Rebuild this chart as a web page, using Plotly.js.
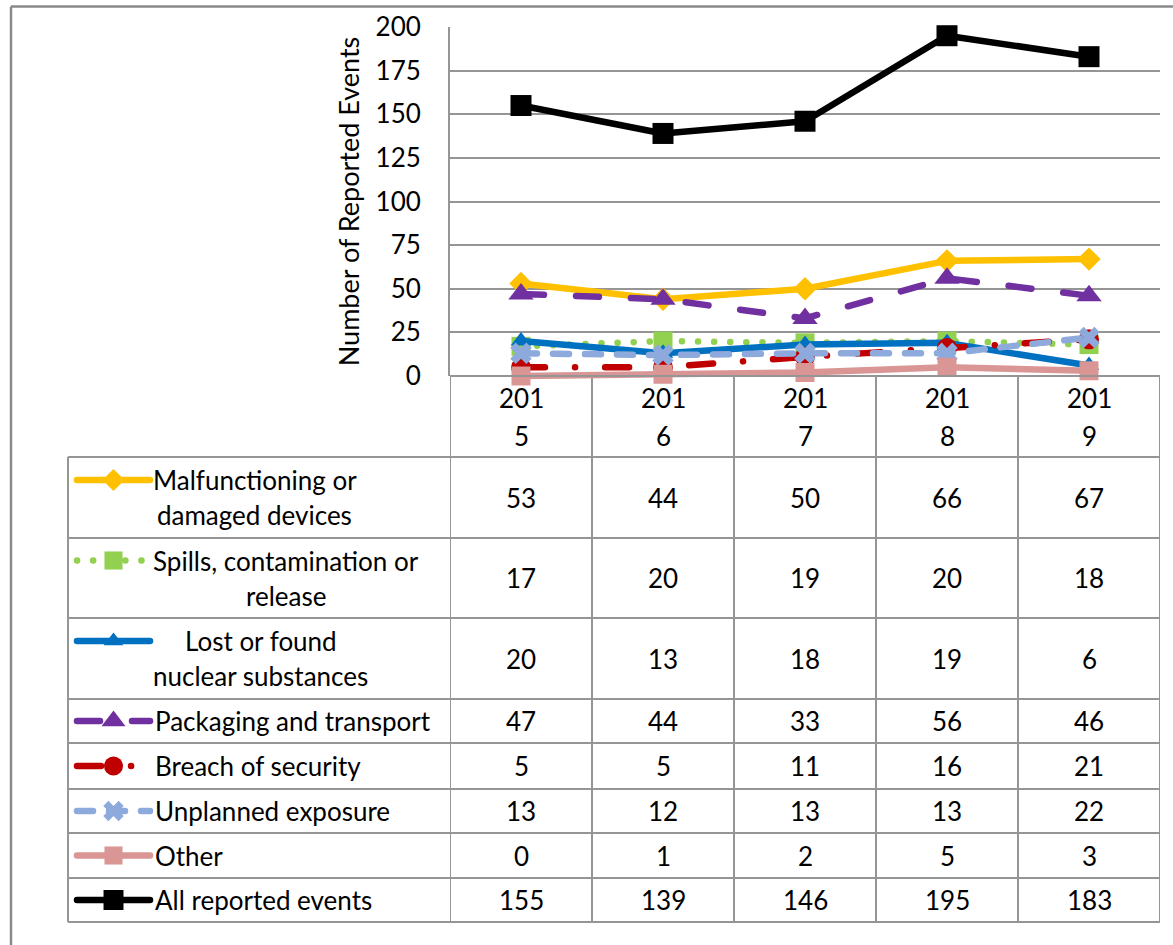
<!DOCTYPE html>
<html><head><meta charset="utf-8">
<script src="https://cdn.plot.ly/plotly-3.0.1.min.js"></script>
<style>html,body{margin:0;padding:0;background:#fff;} #chart{width:1173px;height:945px;}</style>
</head><body><div id="chart"></div>
<script>
// ---------- data ----------
const categories = ['2015', '2016', '2017', '2018', '2019'];
const seriesNames = [
  'Malfunctioning or<br>damaged devices',
  'Spills, contamination or<br>release',
  'Lost or found<br>nuclear substances',
  'Packaging and transport',
  'Breach of security',
  'Unplanned exposure',
  'Other',
  'All reported events'
];
const malfunctioning = [53, 44, 50, 66, 67];
const spills = [17, 20, 19, 20, 18];
const lostFound = [20, 13, 18, 19, 6];
const packaging = [47, 44, 33, 56, 46];
const breach = [5, 5, 11, 16, 21];
const unplanned = [13, 12, 13, 13, 22];
const other = [0, 1, 2, 5, 3];
const allEvents = [155, 139, 146, 195, 183];
const seriesValues = [malfunctioning, spills, lostFound, packaging, breach, unplanned, other, allEvents];
const yAxisTitle = 'Number of Reported Events';

// ---------- styles / layout constants ----------
const W = 1173, H = 945;
const plotLeft = 450, plotRight = 1160, plotTop = 27, plotBottom = 376;
const rowEdges = [457, 538, 618, 699, 743, 789, 833, 878, 922];
const tableLeft = 68, textLeft = 153, keyX0 = 77, keyX1 = 150;
const lineGap = 35, headerGap = 38;
const gridColor = '#959595';
const FONT = 'Lato, Carlito, Calibri, sans-serif';
const FS = 26;
const styles = [
  {color: '#FFC000', dash: 'solid', symbol: 'diamond', size: 18},
  {color: '#92D050', dash: '0.1px,16px', symbol: 'square', size: 19},
  {color: '#0070C0', dash: 'solid', symbol: 'triangle-up', size: 18},
  {color: '#7030A0', dash: '23px,32px', symbol: 'triangle-up', size: 22},
  {color: '#C00000', dash: '24px,30px,0.1px,30px', symbol: 'circle', size: 20},
  {color: '#8EA9DB', dash: '16px,16px', symbol: 'x', size: 19},
  {color: '#D99694', dash: 'solid', symbol: 'square', size: 19},
  {color: '#000000', dash: 'solid', symbol: 'square', size: 21}
];

const cv = document.createElement('canvas').getContext('2d');
cv.font = FS + 'px Lato';
const tw = s => cv.measureText(s).width;

const traces = [];
const annotations = [];
const shapes = [];

seriesValues.forEach((vals, i) => {
  const st = styles[i];
  const plainName = seriesNames[i].replace('<br>', ' ');
  traces.push({
    type: 'scatter', mode: 'lines+markers', name: plainName,
    x: categories, y: vals, xaxis: 'x', yaxis: 'y', cliponaxis: false,
    line: {color: st.color, width: 6.5, dash: st.dash},
    marker: {color: st.color, symbol: st.symbol, size: st.size, opacity: 1, line: {width: 0}},
    showlegend: false, hoverinfo: 'skip'
  });
});

// table rows: legend keys, labels, values
seriesValues.forEach((vals, i) => {
  const st = styles[i];
  const lines = seriesNames[i].split('<br>');
  const n = lines.length;
  const center = (rowEdges[i] + rowEdges[i + 1]) / 2;
  const firstY = center - (n - 1) / 2 * lineGap;
  traces.push({
    type: 'scatter', mode: 'lines+markers', xaxis: 'x2', yaxis: 'y2', cliponaxis: false,
    x: [keyX0, (keyX0 + keyX1) / 2, keyX1], y: [firstY, firstY, firstY],
    line: {color: st.color, width: 6.5, dash: st.dash},
    marker: {color: st.color, symbol: st.symbol, size: [0, st.size * 0.95, 0], opacity: 1, line: {width: 0}},
    showlegend: false, hoverinfo: 'skip'
  });
  const blockW = Math.max(...lines.map(tw));
  lines.forEach((ln, k) => {
    annotations.push({
      xref: 'x2', yref: 'y2', x: n > 1 ? textLeft + blockW / 2 : textLeft,
      xanchor: n > 1 ? 'center' : 'left', yanchor: 'middle',
      y: firstY + k * lineGap, text: ln, showarrow: false,
      font: {family: FONT, size: FS, color: '#000'}
    });
  });
  vals.forEach((v, j) => {
    annotations.push({
      xref: 'x', yref: 'y2', x: j, y: center, text: String(v),
      showarrow: false, xanchor: 'center', yanchor: 'middle',
      font: {family: FONT, size: FS, color: '#000'}
    });
  });
});

// header row: wrapped category labels
const headerCenter = (plotBottom + rowEdges[0]) / 2;
categories.forEach((c, j) => {
  [c.slice(0, 3), c.slice(3)].forEach((part, k) => {
    annotations.push({
      xref: 'x', yref: 'y2', x: j, y: headerCenter + (k - 0.5) * headerGap, text: part,
      showarrow: false, xanchor: 'center', yanchor: 'middle',
      font: {family: FONT, size: FS, color: '#000'}
    });
  });
});

// table grid lines
const lineStyle = {color: gridColor, width: 2};
shapes.push({type: 'line', xref: 'x2', yref: 'y2', x0: plotLeft, x1: plotRight, y0: plotBottom, y1: plotBottom, line: lineStyle, layer: 'below'});
rowEdges.forEach(y => {
  shapes.push({type: 'line', xref: 'x2', yref: 'y2', x0: tableLeft, x1: plotRight, y0: y, y1: y, line: lineStyle, layer: 'below'});
});
for (let j = -1; j < categories.length; j++) {
  shapes.push({type: 'line', xref: 'x', yref: 'y2', x0: j + 0.5, x1: j + 0.5, y0: plotBottom, y1: rowEdges[rowEdges.length - 1], line: lineStyle, layer: 'below'});
}
shapes.push({type: 'line', xref: 'x2', yref: 'y2', x0: tableLeft, x1: tableLeft, y0: rowEdges[0], y1: rowEdges[rowEdges.length - 1], line: lineStyle, layer: 'below'});
// outer frame
shapes.push({type: 'line', xref: 'x2', yref: 'y2', x0: 11, x1: W + 5, y0: 6.5, y1: 6.5, line: {color: '#8a8a8a', width: 2.5}, layer: 'below'});
shapes.push({type: 'line', xref: 'x2', yref: 'y2', x0: 11, x1: 11, y0: 6.5, y1: H + 5, line: {color: '#8a8a8a', width: 2.5}, layer: 'below'});

const layout = {
  width: W, height: H,
  margin: {l: 0, r: 0, t: 0, b: 0, pad: 0},
  paper_bgcolor: '#ffffff', plot_bgcolor: 'rgba(0,0,0,0)',
  showlegend: false,
  font: {family: FONT, size: FS, color: '#000'},
  xaxis: {
    domain: [plotLeft / W, plotRight / W], anchor: 'y', type: 'category',
    range: [-0.5, categories.length - 0.5], showgrid: false, zeroline: false,
    showline: false, showticklabels: false, ticks: '', fixedrange: true
  },
  yaxis: {
    domain: [1 - plotBottom / H, 1 - plotTop / H], anchor: 'x',
    range: [0, 200], dtick: 25, tick0: 0, showgrid: true, gridcolor: gridColor, gridwidth: 2,
    zeroline: false, showline: true, linecolor: gridColor, linewidth: 2, ticks: '',
    ticklabelstandoff: 22,
    tickfont: {family: FONT, size: FS, color: '#000'},
    title: {text: yAxisTitle, font: {family: FONT, size: FS + 1, color: '#000'}, standoff: 8},
    automargin: false, fixedrange: true
  },
  xaxis2: {domain: [0, 1], anchor: 'y2', range: [0, W], visible: false, fixedrange: true},
  yaxis2: {domain: [0, 1], anchor: 'x2', range: [H, 0], visible: false, fixedrange: true},
  annotations: annotations,
  shapes: shapes
};

Plotly.newPlot('chart', traces, layout, {staticPlot: true, displayModeBar: false}).then(gd => {
  gd.querySelectorAll('.scatterlayer path.js-line').forEach(p => {
    p.style.strokeLinecap = 'round';
    p.style.strokeLinejoin = 'round';
  });
  gd.querySelectorAll('.cartesianlayer .scatterlayer [clip-path]').forEach(e => e.removeAttribute('clip-path'));
  gd.querySelectorAll('.cartesianlayer .plot[clip-path]').forEach(e => e.removeAttribute('clip-path'));
});
</script>
</body></html>
